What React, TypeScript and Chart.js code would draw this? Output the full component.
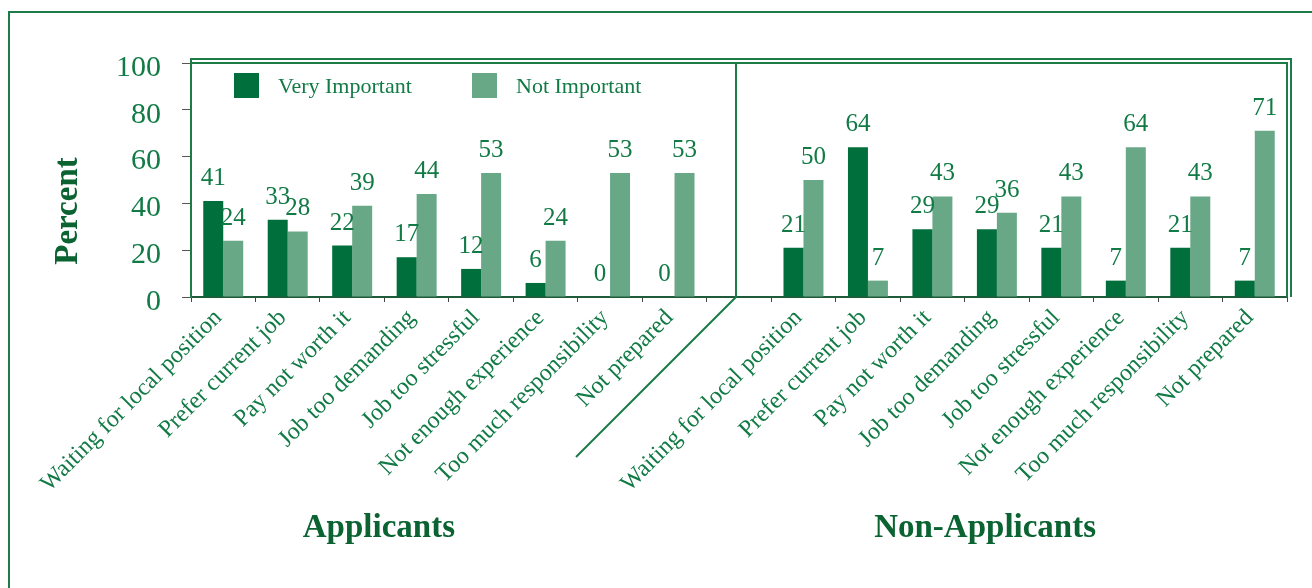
import React, { useEffect, useRef } from 'react';
import { Chart, registerables } from 'chart.js';

Chart.register(...registerables);

const reasons = [
  'Waiting for local position',
  'Prefer current job',
  'Pay not worth it',
  'Job too demanding',
  'Job too stressful',
  'Not enough experience',
  'Too much responsibility',
  'Not prepared',
];
const groupTitles = ['Applicants', 'Non-Applicants'];
const seriesNames = ['Very Important', 'Not Important'];
const applicantsVery = [41, 33, 22, 17, 12, 6, 0, 0];
const applicantsNot = [24, 28, 39, 44, 53, 24, 53, 53];
const nonApplicantsVery = [21, 64, 29, 29, 21, 7, 21, 7];
const nonApplicantsNot = [50, 7, 43, 36, 43, 64, 43, 71];
const yMin = 0;
const yMax = 100;
const yStep = 20;
const yTitle = 'Percent';

const DARK = '#006f3c';
const LIGHT = '#68a887';
const TEXT = '#117a45';
const TITLE = '#0a6331';
const FRAME = '#1d7b48';
const SERIF = '"Liberation Serif", "Times New Roman", serif';

const W = 1312;
const H = 588;

const labels = [...reasons, '', ...reasons];
const veryData: (number | null)[] = [...applicantsVery, null, ...nonApplicantsVery];
const notData: (number | null)[] = [...applicantsNot, null, ...nonApplicantsNot];
const gapIndex = reasons.length;

const decor = {
  id: 'decor',
  beforeDraw(chart: any) {
    const ctx = chart.ctx;
    ctx.save();
    ctx.fillStyle = '#ffffff';
    ctx.fillRect(0, 0, chart.width, chart.height);
    ctx.restore();
  },
  afterDatasetsDraw(chart: any) {
    const ctx = chart.ctx;
    ctx.save();
    ctx.fillStyle = TEXT;
    ctx.font = `25px ${SERIF}`;
    ctx.textAlign = 'center';
    ctx.textBaseline = 'alphabetic';
    chart.data.datasets.forEach((ds: any, di: number) => {
      const meta = chart.getDatasetMeta(di);
      meta.data.forEach((bar: any, i: number) => {
        const v = ds.data[i];
        if (v === null || v === undefined) return;
        ctx.fillText(String(v), bar.x, bar.y - 16);
      });
    });
    ctx.restore();
  },
  afterDraw(chart: any) {
    const ctx = chart.ctx;
    const a = chart.chartArea;
    const xs = chart.scales.x;
    ctx.save();

    // outer frame
    ctx.strokeStyle = FRAME;
    ctx.lineWidth = 2;
    ctx.beginPath();
    ctx.moveTo(9, H);
    ctx.lineTo(9, 12);
    ctx.lineTo(W, 12);
    ctx.stroke();

    // plot box double lines
    ctx.beginPath();
    ctx.moveTo(a.left, a.top - 4);
    ctx.lineTo(a.right + 4, a.top - 4);
    ctx.lineTo(a.right + 4, a.bottom);
    ctx.moveTo(a.left, a.top);
    ctx.lineTo(a.right, a.top);
    ctx.lineTo(a.right, a.bottom);
    ctx.moveTo(a.left, a.top - 5);
    ctx.lineTo(a.left, a.bottom);
    ctx.stroke();

    // divider
    const xd = xs.getPixelForValue(gapIndex) - 3;
    ctx.beginPath();
    ctx.moveTo(xd, a.top);
    ctx.lineTo(xd, a.bottom);
    ctx.lineTo(xd - 160, a.bottom + 160);
    ctx.stroke();

    // legend
    const lx = a.left + 43;
    const ly = a.top + 10;
    ctx.fillStyle = DARK;
    ctx.fillRect(lx, ly, 25, 25);
    ctx.fillStyle = LIGHT;
    ctx.fillRect(lx + 238, ly, 25, 25);
    ctx.fillStyle = TEXT;
    ctx.font = `22px ${SERIF}`;
    ctx.textAlign = 'left';
    ctx.textBaseline = 'alphabetic';
    ctx.fillText(seriesNames[0], lx + 44, ly + 20);
    ctx.fillText(seriesNames[1], lx + 282, ly + 20);

    // group titles
    ctx.fillStyle = TITLE;
    ctx.font = `bold 33px ${SERIF}`;
    ctx.textAlign = 'center';
    const g1 = (xs.getPixelForValue(0) + xs.getPixelForValue(gapIndex - 1)) / 2 - 70;
    const g2 = (xs.getPixelForValue(gapIndex + 1) + xs.getPixelForValue(labels.length - 1)) / 2 - 44;
    ctx.fillText(groupTitles[0], g1, 537);
    ctx.fillText(groupTitles[1], g2, 537);

    // y title
    ctx.translate(68, (a.top + a.bottom) / 2 + 31);
    ctx.rotate(-Math.PI / 2);
    ctx.font = `bold 33px ${SERIF}`;
    ctx.textBaseline = 'middle';
    ctx.fillText(yTitle, 0, 0);
    ctx.restore();
  },
};

export default function App() {
  const ref = useRef<HTMLCanvasElement | null>(null);
  useEffect(() => {
    if (!ref.current) return;
    const chart = new Chart(ref.current, {
      type: 'bar',
      data: {
        labels,
        datasets: [
          { label: seriesNames[0], data: veryData, backgroundColor: DARK, borderWidth: 0 },
          { label: seriesNames[1], data: notData, backgroundColor: LIGHT, borderWidth: 0 },
        ],
      },
      options: {
        responsive: false,
        animation: false,
        layout: { padding: { top: 63, right: 25, left: 0, bottom: 0 } },
        plugins: { legend: { display: false }, tooltip: { enabled: false } },
        datasets: { bar: { categoryPercentage: 0.62, barPercentage: 1.0 } },
        scales: {
          x: {
            type: 'category',
            offset: true,
            grid: { offset: true, drawOnChartArea: false, drawTicks: true, tickLength: 5, color: '#444444' },
            border: { display: true, color: '#1f5a3a', width: 2 },
            ticks: {
              autoSkip: false,
              maxRotation: 45,
              minRotation: 45,
              padding: 2,
              labelOffset: -5,
              color: TEXT,
              font: { family: SERIF, size: 24 },
            },
            afterFit: (s: any) => { s.height = H - 297; },
          },
          y: {
            min: yMin,
            max: yMax,
            ticks: { stepSize: yStep, padding: 21, labelOffset: 5, color: TEXT, font: { family: SERIF, size: 30 } },
            grid: { drawOnChartArea: false, drawTicks: true, tickLength: 9, color: '#555555' },
            border: { display: true, color: FRAME, width: 2 },
            afterFit: (s: any) => { s.width = 191; },
          },
        },
      },
      plugins: [decor],
    });
    return () => chart.destroy();
  }, []);
  return (
    <div style={{ position: 'absolute', left: 0, top: 0, width: W, height: H }}>
      <canvas ref={ref} width={W} height={H} style={{ display: 'block', width: W, height: H }} />
    </div>
  );
}
